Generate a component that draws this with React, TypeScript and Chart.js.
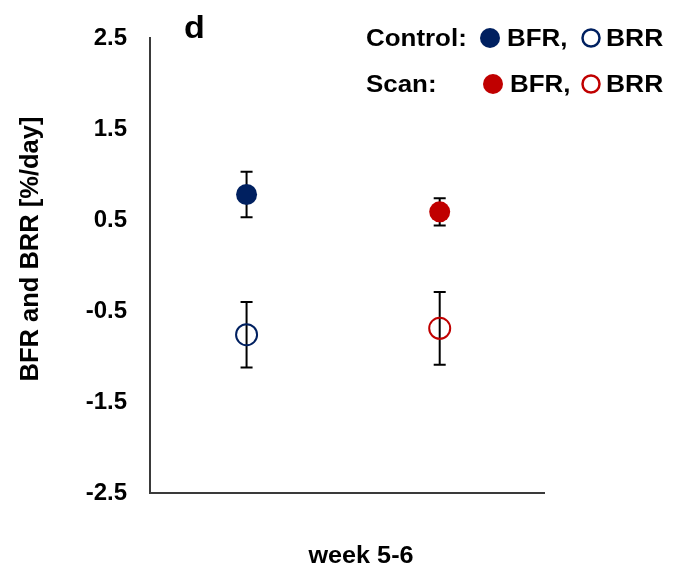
import React, { useEffect, useRef } from "react";
import { Chart, registerables } from "chart.js";

Chart.register(...registerables);

// Group data: mean bone formation (BFR) and resorption (BRR) rates with error
const groups = ["Control", "Scan"];
const groupX = [1, 3];
const bfrMean = [0.78, 0.59];
const bfrErr = [0.25, 0.15];
const brrMean = [-0.76, -0.69];
const brrErr = [0.36, 0.4];
const groupColors = ["#002060", "#C00000"];

const yTicks = [2.5, 1.5, 0.5, -0.5, -1.5, -2.5];
const xTitle = "week 5-6";
const yTitle = "BFR and BRR [%/day]";
const panelLabel = "d";

const FONT = "'Liberation Sans', Arial, sans-serif";
const AXIS_COLOR = "#3a3a3a";

// Vertical error bars with caps, drawn under the markers
const errorBarPlugin = {
  id: "errorBars",
  beforeDatasetsDraw(chart: any) {
    const { ctx } = chart;
    const y = chart.scales.y;
    chart.data.datasets.forEach((ds: any, i: number) => {
      const meta = chart.getDatasetMeta(i);
      meta.data.forEach((pt: any, j: number) => {
        const v = ds.data[j].y;
        const e = ds.errors[j];
        const top = y.getPixelForValue(v + e);
        const bot = y.getPixelForValue(v - e);
        const x = pt.x;
        ctx.save();
        ctx.strokeStyle = "#000";
        ctx.lineWidth = 2;
        ctx.beginPath();
        ctx.moveTo(x, top);
        ctx.lineTo(x, bot);
        ctx.moveTo(x - 6, top);
        ctx.lineTo(x + 6, top);
        ctx.moveTo(x - 6, bot);
        ctx.lineTo(x + 6, bot);
        ctx.stroke();
        ctx.restore();
      });
    });
  },
};

// Text drawn slightly widened, like the wide bold face used for the labels
function wideText(ctx: any, text: string, x: number, y: number, align: string, sx = 1.07) {
  ctx.save();
  ctx.translate(x, y);
  ctx.scale(sx, 1);
  ctx.textAlign = align;
  ctx.fillText(text, 0, 0);
  ctx.restore();
}

// Panel letter, legend rows and axis titles
const annotationPlugin = {
  id: "annotations",
  afterDraw(chart: any) {
    const { ctx } = chart;
    ctx.save();
    ctx.fillStyle = "#000";
    ctx.textBaseline = "alphabetic";

    ctx.font = `bold 31px ${FONT}`;
    wideText(ctx, panelLabel, 184, 38, "left", 1.1);

    ctx.font = `bold 24px ${FONT}`;
    const rows = [
      { label: groups[0] + ":", base: 46, cy: 38, dotX: 490, bfrX: 507 },
      { label: groups[1] + ":", base: 92, cy: 84, dotX: 493, bfrX: 510 },
    ];
    rows.forEach((r, g) => {
      ctx.fillStyle = "#000";
      wideText(ctx, r.label, 366, r.base, "left", 1.08);
      wideText(ctx, "BFR,", r.bfrX, r.base, "left", 1.08);
      wideText(ctx, "BRR", 606, r.base, "left", 1.1);
      ctx.beginPath();
      ctx.arc(r.dotX, r.cy, 10, 0, Math.PI * 2);
      ctx.fillStyle = groupColors[g];
      ctx.fill();
      ctx.beginPath();
      ctx.arc(591, r.cy, 8.5, 0, Math.PI * 2);
      ctx.strokeStyle = groupColors[g];
      ctx.lineWidth = 2.5;
      ctx.stroke();
    });

    ctx.fillStyle = "#000";
    wideText(ctx, xTitle, 361, 563, "center", 1.05);

    ctx.translate(31, 249);
    ctx.rotate(-Math.PI / 2);
    ctx.textBaseline = "middle";
    ctx.font = `bold 25px ${FONT}`;
    wideText(ctx, yTitle, 0, 0, "center", 1.02);
    ctx.restore();
  },
};

export default function App() {
  const canvasRef = useRef<HTMLCanvasElement | null>(null);

  useEffect(() => {
    if (!canvasRef.current) return;
    const datasets: any[] = [];
    groups.forEach((name, g) => {
      datasets.push({
        label: `${name} BFR`,
        data: [{ x: groupX[g], y: bfrMean[g] }],
        errors: [bfrErr[g]],
        backgroundColor: groupColors[g],
        borderColor: groupColors[g],
        borderWidth: 0,
        pointRadius: 10.5,
      });
      datasets.push({
        label: `${name} BRR`,
        data: [{ x: groupX[g], y: brrMean[g] }],
        errors: [brrErr[g]],
        backgroundColor: "rgba(0,0,0,0)",
        borderColor: groupColors[g],
        borderWidth: 2,
        pointRadius: 10.5,
      });
    });

    const chart = new Chart(canvasRef.current, {
      type: "scatter",
      data: { datasets },
      options: {
        responsive: false,
        animation: false,
        devicePixelRatio: 1,
        layout: { padding: { left: 0, top: 38, right: 129, bottom: 76 } },
        plugins: { legend: { display: false }, tooltip: { enabled: false } },
        scales: {
          x: {
            type: "linear",
            min: 0,
            max: 4.08,
            grid: { display: false },
            ticks: { display: false },
            border: { display: true, color: AXIS_COLOR, width: 2 },
            afterFit(scale: any) {
              scale.height = 0;
            },
          },
          y: {
            type: "linear",
            min: -2.5,
            max: 2.5,
            grid: { display: false, drawTicks: false },
            border: { display: true, color: AXIS_COLOR, width: 2 },
            ticks: {
              padding: 23,
              color: "#000",
              font: { family: FONT, size: 24, weight: "bold" },
              callback: (v: any) => Number(v).toFixed(1),
            },
            afterBuildTicks(scale: any) {
              scale.ticks = yTicks.map((v) => ({ value: v }));
            },
            afterFit(scale: any) {
              scale.width = 150;
            },
          },
        },
      },
      plugins: [errorBarPlugin, annotationPlugin],
    } as any);

    return () => chart.destroy();
  }, []);

  return (
    <div style={{ position: "fixed", left: 0, top: 0, width: 673, height: 569, background: "#fff" }}>
      <canvas ref={canvasRef} width={673} height={569} style={{ display: "block" }} />
    </div>
  );
}
